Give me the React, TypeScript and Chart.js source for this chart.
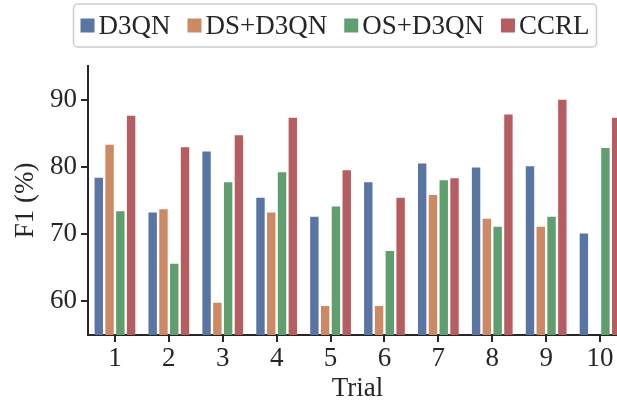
import React, { useEffect, useRef } from "react";
import { Chart, registerables } from "chart.js";

Chart.register(...registerables);

const trials = ["1", "2", "3", "4", "5", "6", "7", "8", "9", "10"];
const d3qn = [78.4, 73.2, 82.3, 75.4, 72.6, 77.7, 80.5, 79.9, 80.1, 70.1];
const dsD3qn = [83.3, 73.7, 59.8, 73.2, 59.3, 59.3, 75.8, 72.3, 71.1, null];
const osD3qn = [73.4, 65.6, 77.7, 79.2, 74.1, 67.5, 78.0, 71.1, 72.6, 82.8];
const ccrl = [87.6, 82.9, 84.7, 87.3, 79.5, 75.4, 78.3, 87.8, 90.0, 87.3];
const yTicks = [60, 70, 80, 90];
const seriesLabels = ["D3QN", "DS+D3QN", "OS+D3QN", "CCRL"];
const seriesColors = ["#5875A4", "#CC8963", "#5F9E6E", "#B55D60"];

const FONT = "'Liberation Serif', 'Times New Roman', serif";
const INK = "#262626";

const boxLegend = {
  id: "boxLegend",
  afterDraw(chart: any) {
    const ctx = chart.ctx as CanvasRenderingContext2D;
    const sets = chart.data.datasets;
    ctx.save();
    ctx.font = `27px ${FONT}`;
    const sq = 14;
    const gapBoxText = 4;
    const itemGap = 17;
    const widths = sets.map((d: any) => sq + gapBoxText + ctx.measureText(d.label).width);
    const total = widths.reduce((a: number, b: number) => a + b, 0) + itemGap * (sets.length - 1);
    const cx = 335;
    const padX = 7;
    const top = 4;
    const bottom = 47;
    const left = cx - total / 2 - padX;
    const right = cx + total / 2 + padX;
    ctx.beginPath();
    (ctx as any).roundRect(left, top, right - left, bottom - top, 4);
    ctx.fillStyle = "#ffffff";
    ctx.fill();
    ctx.lineWidth = 1.5;
    ctx.strokeStyle = "#cccccc";
    ctx.stroke();
    let x = cx - total / 2;
    const midY = 25.5;
    sets.forEach((d: any, i: number) => {
      ctx.fillStyle = d.backgroundColor;
      ctx.fillRect(x, midY - sq / 2, sq, sq);
      ctx.fillStyle = INK;
      ctx.textBaseline = "middle";
      ctx.textAlign = "left";
      ctx.fillText(d.label, x + sq + gapBoxText, midY + 1);
      x += widths[i] + itemGap;
    });
    ctx.restore();
  },
};

export default function App() {
  const ref = useRef<HTMLCanvasElement | null>(null);
  useEffect(() => {
    if (!ref.current) return;
    const series = [d3qn, dsD3qn, osD3qn, ccrl];
    const chart = new Chart(ref.current, {
      type: "bar",
      data: {
        labels: trials,
        datasets: series.map((s, i) => ({
          label: seriesLabels[i],
          data: s,
          backgroundColor: seriesColors[i],
          borderWidth: 0,
          categoryPercentage: 0.8,
          barPercentage: 0.78,
        })),
      },
      options: {
        animation: false,
        responsive: false,
        maintainAspectRatio: false,
        layout: { padding: { top: 66, right: 13, bottom: 0, left: 0 } },
        plugins: {
          legend: { display: false },
          tooltip: { enabled: false },
        },
        scales: {
          x: {
            type: "category",
            offset: true,
            grid: {
              display: true,
              offset: false,
              drawOnChartArea: false,
              drawTicks: true,
              tickLength: 7,
              color: INK,
              lineWidth: 2,
            },
            border: { display: true, color: INK, width: 2 },
            ticks: {
              color: INK,
              font: { family: FONT, size: 27 },
              padding: 1,
              maxRotation: 0,
              autoSkip: false,
            },
            title: {
              display: true,
              text: "Trial",
              color: INK,
              font: { family: FONT, size: 27 },
              padding: { top: 0, bottom: 4 },
            },
            afterFit(scale: any) {
              scale.height = 74;
            },
          },
          y: {
            type: "linear",
            min: 55,
            max: 95,
            grid: {
              display: true,
              drawOnChartArea: false,
              drawTicks: true,
              tickLength: 7,
              color: INK,
              lineWidth: 2,
            },
            border: { display: true, color: INK, width: 2 },
            ticks: {
              color: INK,
              font: { family: FONT, size: 27 },
              padding: 4,
            },
            afterBuildTicks(scale: any) {
              scale.ticks = yTicks.map((v) => ({ value: v }));
            },
            title: {
              display: true,
              text: "F1 (%)",
              color: INK,
              font: { family: FONT, size: 27 },
              padding: { top: 10, bottom: 0 },
            },
            afterFit(scale: any) {
              scale.width = 88;
            },
          },
        },
      },
      plugins: [boxLegend],
    });
    return () => chart.destroy();
  }, []);
  return (
    <div style={{ position: "absolute", left: 0, top: 0, width: 640, height: 409, overflow: "hidden" }}>
      <canvas ref={ref} width={640} height={409} style={{ display: "block", width: 640, height: 409 }} />
    </div>
  );
}
